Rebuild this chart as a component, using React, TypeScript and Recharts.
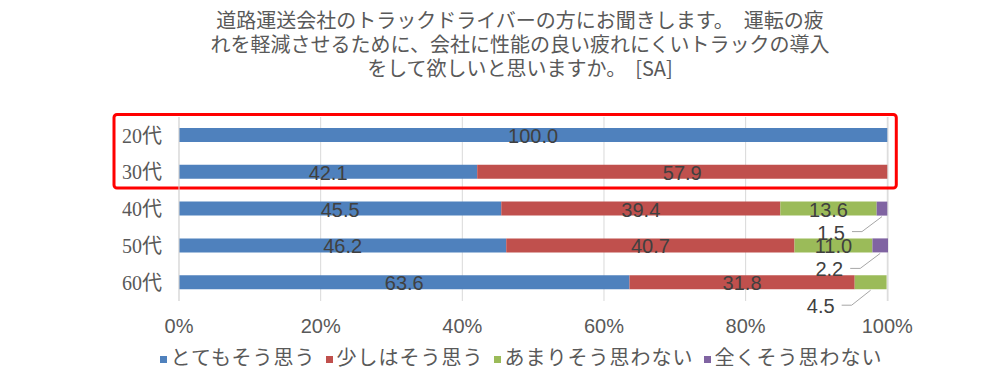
import { BarChart, Bar, XAxis, YAxis, CartesianGrid, Legend, LabelList, ReferenceArea } from 'recharts';

const titleLines = [
  '道路運送会社のトラックドライバーの方にお聞きします。　運転の疲',
  'れを軽減させるために、会社に性能の良い疲れにくいトラックの導入',
  'をして欲しいと思いますか。  [SA]',
];

const ages = ['20代', '30代', '40代', '50代', '60代'];
const veryMuch = [100.0, 42.1, 45.5, 46.2, 63.6];
const somewhat = [0, 57.9, 39.4, 40.7, 31.8];
const notMuch = [0, 0, 13.6, 11.0, 4.5];
const notAtAll = [0, 0, 1.5, 2.2, 0];
const xTicks = [0, 20, 40, 60, 80, 100];

const series = [
  { key: 'veryMuch', name: 'とてもそう思う', color: '#4F81BD' },
  { key: 'somewhat', name: '少しはそう思う', color: '#C0504D' },
  { key: 'notMuch', name: 'あまりそう思わない', color: '#9BBB59' },
  { key: 'notAtAll', name: '全くそう思わない', color: '#8064A2' },
];

const data = ages.map((age, i) => ({
  age,
  veryMuch: veryMuch[i],
  somewhat: somewhat[i],
  notMuch: notMuch[i],
  notAtAll: notAtAll[i],
}));

// small segments get their label pulled out below the bar with a leader line
const calloutElbow: Record<string, number> = { '40代': -19, '50代': -9, '60代': -31 };

const sansFont = "'Liberation Sans', Arial, 'Noto Sans CJK JP', sans-serif";
const jpFont = "'Noto Sans CJK JP', sans-serif";
const serifFont = "'Liberation Serif', 'Noto Sans CJK JP', serif";

const renderLabel = (props: any) => {
  const { x, y, width, height, value, index } = props;
  if (!value) return null;
  const cx = x + width / 2;
  if (value < 5) {
    const bottom = y + height;
    const elbowX = cx + (calloutElbow[ages[index]] ?? -20);
    const elbowY = bottom + 16;
    const startX = elbowX - 10;
    return (
      <g>
        <polyline
          points={`${cx},${bottom + 1} ${elbowX},${elbowY} ${startX},${elbowY}`}
          fill="none"
          stroke="#A6A6A6"
          strokeWidth={1}
        />
        <text x={startX - 7} y={elbowY + 1} textAnchor="end" dominantBaseline="central"
          fill="#404040" fontSize={20} fontFamily={sansFont}>
          {Number(value).toFixed(1)}
        </text>
      </g>
    );
  }
  return (
    <text x={cx} y={y + height / 2 + 1} textAnchor="middle" dominantBaseline="central"
      fill="#404040" fontSize={20} fontFamily={sansFont}>
      {Number(value).toFixed(1)}
    </text>
  );
};

const HighlightBox = (props: any) => {
  const { x, y, width, height } = props;
  return (
    <rect x={x - 65} y={y - 2.5} width={width + 74} height={height}
      fill="none" stroke="#FF0000" strokeWidth={3} rx={3} />
  );
};

export default function App() {
  return (
    <div style={{ position: 'absolute', left: 0, top: 0, width: 1008, height: 386, background: '#fff' }}>
      <div
        style={{
          position: 'absolute',
          left: 20,
          top: 8,
          width: 1000,
          textAlign: 'center',
          fontFamily: jpFont,
          fontSize: 20,
          lineHeight: '24px',
          color: '#595959',
          whiteSpace: 'pre',
        }}
      >
        {titleLines.map((line) => (
          <div key={line}>{line}</div>
        ))}
      </div>
      <BarChart
        width={1008}
        height={386}
        data={data}
        layout="vertical"
        barSize={14}
        margin={{ top: 117, right: 120, bottom: 55, left: 0 }}
      >
        <CartesianGrid horizontal={false} stroke="#D9D9D9" />
        <XAxis
          type="number"
          domain={[0, 100]}
          ticks={xTicks}
          tickFormatter={(v) => `${v}%`}
          axisLine={false}
          tickLine={false}
          tickSize={0}
          tickMargin={18}
          height={30}
          tick={{ fill: '#595959', fontSize: 20, fontFamily: sansFont }}
        />
        <YAxis
          type="category"
          dataKey="age"
          width={179}
          axisLine={{ stroke: '#D9D9D9' }}
          tickLine={false}
          tickSize={0}
          tickMargin={17}
          tick={{ fill: '#595959', fontSize: 20, fontFamily: serifFont }}
        />
        <Legend
          layout="horizontal"
          align="center"
          verticalAlign="middle"
          iconType="square"
          iconSize={7}
          itemSorter={(item: any) => series.findIndex((s) => s.key === item.dataKey)}
          wrapperStyle={{ top: 343, left: 26, width: 1000, fontSize: 20, fontFamily: jpFont, lineHeight: '28px', letterSpacing: '1px' }}
          formatter={(value) => <span style={{ color: '#595959' }}>{value}</span>}
        />
        {series.map((s) => (
          <Bar key={s.key} dataKey={s.key} name={s.name} stackId="a" fill={s.color} isAnimationActive={false}>
            <LabelList dataKey={s.key} content={renderLabel} />
          </Bar>
        ))}
        <ReferenceArea y1="20代" y2="30代" x1={0} x2={100} ifOverflow="visible" shape={HighlightBox} />
      </BarChart>
    </div>
  );
}
